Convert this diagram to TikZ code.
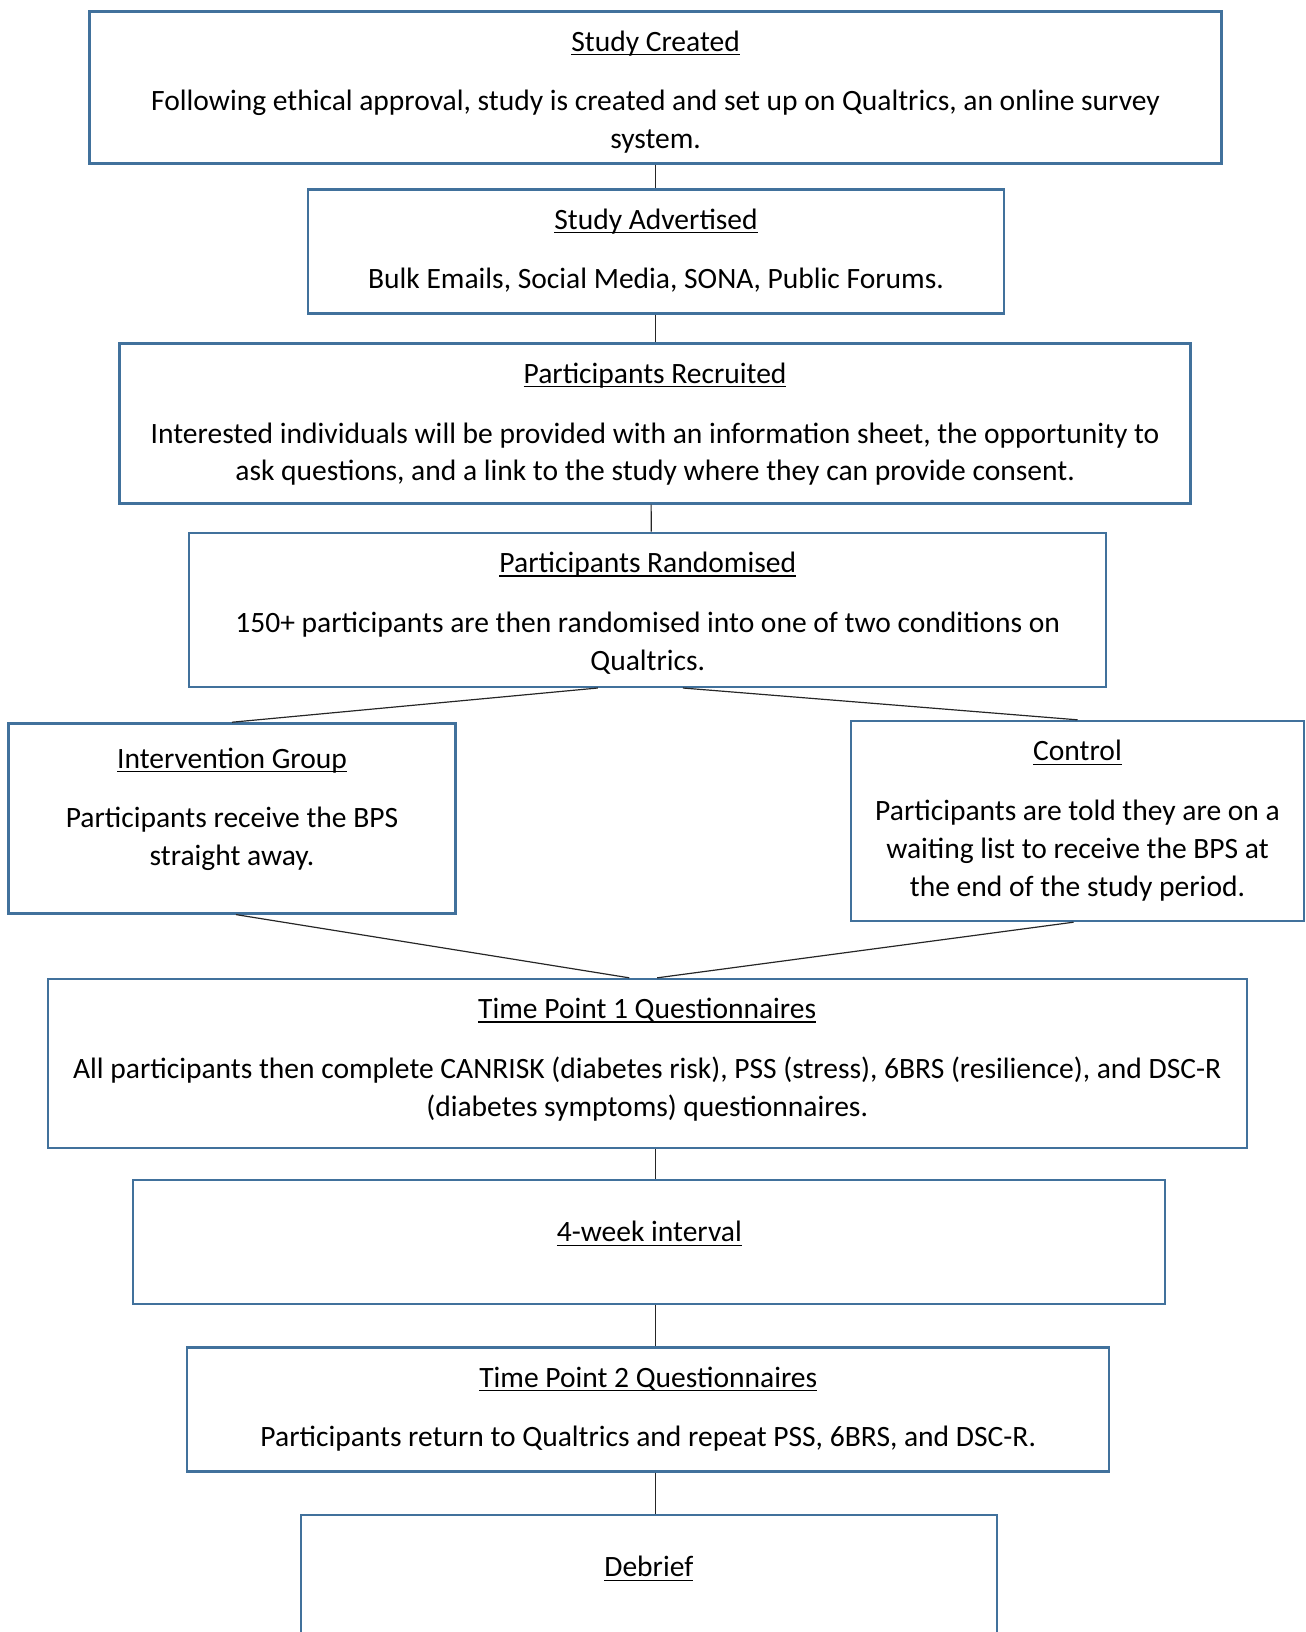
\documentclass[tikz,border=0pt]{standalone}
\usepackage{fontspec}
\setmainfont{Carlito}
\usetikzlibrary{positioning,calc}
\definecolor{boxblue}{RGB}{65,113,156}
\newcommand{\steptitle}[1]{\setbox0\hbox{#1}\rlap{\rule[-1.7pt]{\wd0}{0.55pt}}\box0}

\begin{document}
\begin{tikzpicture}[
    x=0.42pt, y=-0.42pt,
    stepbox/.style 2 args={draw=boxblue, line width=1pt, inner sep=0pt,
        minimum width=#1*0.42pt, minimum height=#2*0.42pt},
    steptext/.style={anchor=north, align=center, inner sep=0pt,
        font=\fontsize{12.4}{15.9}\selectfont},
    link/.style={draw=black!85, line width=0.5pt}
]
\useasboundingbox (0,0) rectangle (1306,1632);

% boxes
\node[stepbox={1132}{152}] (created) at (655.6,87.4) {};
\node[stepbox={696}{124}] (advertised) at (656,251.3) {};
\node[stepbox={1071}{160}] (recruited) at (655.1,423.5) {};
\node[stepbox={917}{154}] (randomised) at (647.8,609.8) {};
\node[stepbox={447}{190}] (intervention) at (232,818.4) {};
\node[stepbox={453}{200}] (control) at (1077.5,821) {};
\node[stepbox={1199}{169}] (tpone) at (647.2,1063.5) {};
\node[stepbox={1032}{124}] (interval) at (649.3,1242) {};
\node[stepbox={922}{124}] (tptwo) at (648.3,1409.5) {};
\node[stepbox={696}{124}] (debrief) at (648.8,1577) {};

% texts
\node[steptext] (createdtxt) at ($(created.north)+(0,20)$)
    {\steptitle{Study Created}\\[9.2pt]
     Following ethical approval, study is created and set up on Qualtrics, an online survey\\
     system.};
\node[steptext] (advertisedtxt) at ($(advertised.north)+(0,20)$)
    {\steptitle{Study Advertised}\\[9.2pt]
     Bulk Emails, Social Media, SONA, Public Forums.};
\node[steptext] (recruitedtxt) at ($(recruited.north)+(0,20)$)
    {\steptitle{Participants Recruited}\\[9.2pt]
     Interested individuals will be provided with an information sheet, the opportunity to\\
     ask questions, and a link to the study where they can provide consent.};
\node[steptext] (randomisedtxt) at ($(randomised.north)+(0,20)$)
    {\steptitle{Participants Randomised}\\[9.2pt]
     150+ participants are then randomised into one of two conditions on\\
     Qualtrics.};
\node[steptext] (interventiontxt) at ($(intervention.north)+(0,25)$)
    {\steptitle{Intervention Group}\\[9.2pt]
     Participants receive the BPS\\
     straight away.};
\node[steptext] (controltxt) at ($(control.north)+(0,20)$)
    {\steptitle{Control}\\[9.2pt]
     Participants are told they are on a\\
     waiting list to receive the BPS at\\
     the end of the study period.};
\node[steptext] (tponetxt) at ($(tpone.north)+(0,20)$)
    {\steptitle{Time Point 1 Questionnaires}\\[9.2pt]
     All participants then complete CANRISK (diabetes risk), PSS (stress), 6BRS (resilience), and DSC-R\\
     (diabetes symptoms) questionnaires.};
\node[steptext] (intervaltxt) at ($(interval.north)+(0,42)$)
    {\steptitle{4-week interval}};
\node[steptext] (tptwotxt) at ($(tptwo.north)+(0,20)$)
    {\steptitle{Time Point 2 Questionnaires}\\[9.2pt]
     Participants return to Qualtrics and repeat PSS, 6BRS, and DSC-R.};
\node[steptext] (debrieftxt) at ($(debrief.north)+(0,42)$)
    {\steptitle{Debrief}};

% connectors
\coordinate (spine) at (655.6,0);
\draw[link] (spine |- created.south) -- (spine |- advertised.north);
\draw[link] (spine |- advertised.south) -- (spine |- recruited.north);
\draw[link] ($(recruited.south)+(-4,0)$) -- ($(randomised.north)+(3.5,0)$);
\draw[link] ($(randomised.south)+(-50,0)$) -- (intervention.north);
\draw[link] ($(randomised.south)+(35,0)$) -- (control.north);
\draw[link] ($(intervention.south)+(4,0)$) -- ($(tpone.north)+(-18,0)$);
\draw[link] ($(control.south)+(-4,0)$) -- ($(tpone.north)+(10,0)$);
\draw[link] (spine |- tpone.south) -- (spine |- interval.north);
\draw[link] (spine |- interval.south) -- (spine |- tptwo.north);
\draw[link] (spine |- tptwo.south) -- (spine |- debrief.north);
\end{tikzpicture}
\end{document}
